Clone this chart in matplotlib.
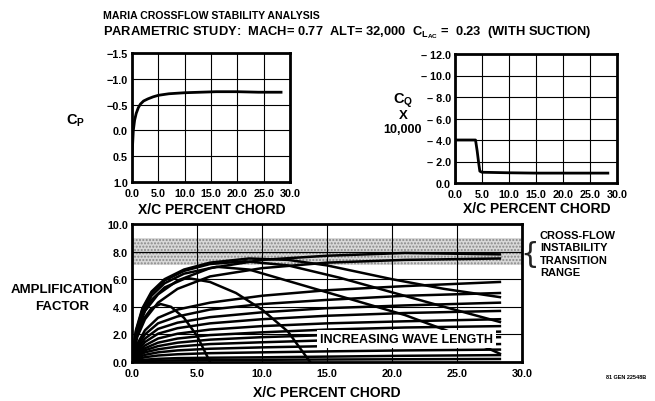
import matplotlib
matplotlib.use("Agg")
import matplotlib.pyplot as plt

plt.rcParams['font.family'] = ['Liberation Sans', 'DejaVu Sans']
plt.rcParams['font.weight'] = 'bold'
plt.rcParams['mathtext.fontset'] = 'custom'
plt.rcParams['mathtext.rm'] = 'Liberation Sans:bold'
plt.rcParams['mathtext.it'] = 'Liberation Sans:bold'
plt.rcParams['mathtext.bf'] = 'Liberation Sans:bold'

# ---- data ----
# pressure coefficient (top left)
cp_x = [0.0, 0.1, 0.25, 0.5, 0.8, 1.2, 1.6, 2.2, 3.0, 4.0, 5.0, 7.0, 10.0, 13.0, 16.0, 20.0, 24.0, 28.3]
cp_y = [0.5, 0.3, 0.0, -0.2, -0.33, -0.44, -0.51, -0.57, -0.61, -0.65, -0.68, -0.71, -0.73, -0.74, -0.75, -0.75, -0.74, -0.74]

# suction coefficient x 10,000 (top right)
cq_x = [0.0, 0.0, 3.8, 4.1, 4.4, 4.6, 5.0, 10.0, 15.0, 20.0, 25.0, 28.3]
cq_y = [0.0, 4.0, 4.0, 3.0, 1.8, 1.1, 1.0, 0.95, 0.92, 0.92, 0.92, 0.92]

# amplification factor curves (bottom) - short wavelengths: rise and decay
arc_x = [
    [0, 0.3, 0.8, 1.5, 2.2, 3.0, 4.0, 5.0, 6.0],
    [0, 0.3, 0.8, 1.5, 2.5, 4.2, 6.0, 8.0, 10.0, 12.0, 13.7],
    [0, 0.3, 0.8, 1.5, 2.5, 4.0, 6.5, 9.0, 13.0, 17.0, 21.0, 25.0, 28.3],
    [0, 0.3, 0.8, 1.5, 2.5, 4.0, 6.0, 8.7, 12.0, 16.0, 20.0, 24.0, 28.3],
    [0, 0.3, 0.8, 1.5, 2.5, 4.0, 6.0, 9.0, 12.0, 15.0, 20.0, 24.0, 28.3],
]
arc_y = [
    [0, 1.7, 3.0, 3.9, 4.2, 4.0, 3.2, 1.9, 0.0],
    [0, 2.0, 3.4, 4.5, 5.4, 6.1, 5.8, 5.0, 3.8, 2.2, 0.0],
    [0, 2.1, 3.6, 4.8, 5.7, 6.4, 6.9, 6.7, 5.6, 4.5, 3.4, 2.0, 0.6],
    [0, 2.2, 3.8, 5.0, 5.9, 6.6, 7.1, 7.3, 7.0, 6.1, 5.05, 4.0, 2.9],
    [0, 2.3, 3.9, 5.1, 6.0, 6.7, 7.2, 7.5, 7.4, 7.0, 6.0, 5.3, 4.7],
]

# longer wavelengths: keep growing to the end of the chord range
long_x = [0, 0.4, 1.0, 2.0, 3.5, 6.0, 10.0, 15.0, 21.0, 28.3]
long_y = [
    [0, 2.2, 3.7, 4.9, 5.9, 6.8, 7.4, 7.7, 7.9, 7.8],
    [0, 1.8, 3.1, 4.3, 5.3, 6.2, 6.8, 7.2, 7.4, 7.5],
    [0, 1.3, 2.3, 3.2, 3.8, 4.3, 4.8, 5.2, 5.5, 5.8],
    [0, 1.1, 2.0, 2.8, 3.3, 3.8, 4.2, 4.5, 4.8, 5.0],
    [0, 0.95, 1.7, 2.4, 2.85, 3.25, 3.6, 3.9, 4.1, 4.3],
    [0, 0.8, 1.45, 2.05, 2.45, 2.8, 3.1, 3.35, 3.55, 3.7],
    [0, 0.7, 1.2, 1.7, 2.05, 2.35, 2.6, 2.8, 2.95, 3.1],
    [0, 0.6, 1.0, 1.4, 1.7, 1.95, 2.15, 2.35, 2.5, 2.6],
    [0, 0.5, 0.85, 1.15, 1.4, 1.62, 1.8, 1.95, 2.1, 2.2],
    [0, 0.4, 0.7, 0.92, 1.12, 1.3, 1.43, 1.57, 1.7, 1.8],
    [0, 0.3, 0.52, 0.7, 0.84, 0.96, 1.06, 1.15, 1.23, 1.3],
    [0, 0.2, 0.35, 0.47, 0.56, 0.64, 0.7, 0.77, 0.84, 0.9],
    [0, 0.1, 0.17, 0.23, 0.28, 0.31, 0.34, 0.39, 0.45, 0.5],
    [0, 0.05, 0.08, 0.1, 0.12, 0.14, 0.16, 0.18, 0.2, 0.22],
]

band_lo, band_hi = 7.0, 9.0

x_ticks = [0, 5, 10, 15, 20, 25, 30]
x_labels = ['0.0', '5.0', '10.0', '15.0', '20.0', '25.0', '30.0']
cp_ticks = [-1.5, -1.0, -0.5, 0.0, 0.5, 1.0]
cp_labels = ['\u22121.5', '\u22121.0', '\u22120.5', '0.0', '0.5', '1.0']
cq_ticks = [0, 2, 4, 6, 8, 10, 12]
cq_labels = ['0.0', '\u2013 2.0', '\u2013 4.0', '\u2013 6.0', '\u2013 8.0', '\u2013 10.0', '\u2013 12.0']
af_ticks = [0, 2, 4, 6, 8, 10]
af_labels = ['0.0', '2.0', '4.0', '6.0', '8.0', '10.0']

W, H = 655, 402
fig = plt.figure(figsize=(W / 100, H / 100), dpi=100)


def px_axes(l, t, r, b):
    return fig.add_axes([l / W, 1 - b / H, (r - l) / W, (b - t) / H])


def style(ax):
    for s in ax.spines.values():
        s.set_linewidth(2.0)
    ax.tick_params(length=0, labelsize=7.8)
    ax.tick_params(axis='x', pad=4)
    ax.tick_params(axis='y', pad=3)
    ax.grid(True, color='black', lw=0.8)
    ax.set_axisbelow(True)


def ftext(x, y, s, **kw):
    fig.text(x / W, 1 - y / H, s, **kw)


# ---- top left: Cp ----
ax1 = px_axes(132, 54, 290, 183)
style(ax1)
ax1.plot(cp_x, cp_y, color='black', lw=2.0)
ax1.set_xlim(0, 30)
ax1.set_ylim(1.0, -1.5)
ax1.set_xticks(x_ticks, x_labels)
ax1.set_yticks(cp_ticks, cp_labels)

# ---- top right: Cq ----
ax2 = px_axes(455, 55, 617, 184)
style(ax2)
ax2.plot(cq_x, cq_y, color='black', lw=2.0)
ax2.set_xlim(0, 30)
ax2.set_ylim(0, 12)
ax2.set_xticks(x_ticks, x_labels)
ax2.set_yticks(cq_ticks, cq_labels)

# ---- bottom: amplification factor ----
ax3 = px_axes(132, 225, 522, 363)
style(ax3)
ax3.axhspan(band_lo, band_hi, facecolor='#d8d8d8', edgecolor='#888888',
            hatch='.....', lw=0, zorder=0.5)
ax3.axhline(8.0, color='black', lw=0.8, zorder=0.6)
for xs, ys in zip(arc_x, arc_y):
    ax3.plot(xs, ys, color='black', lw=1.8, zorder=2)
for ys in long_y:
    ax3.plot(long_x, ys, color='black', lw=1.8, zorder=2)
ax3.set_xlim(0, 30)
ax3.set_ylim(0, 10)
ax3.set_xticks(x_ticks, x_labels)
ax3.set_yticks(af_ticks, af_labels)
ax3.text(21.1, 1.65, 'INCREASING WAVE LENGTH', ha='center', va='center',
         fontsize=9, zorder=5,
         bbox=dict(facecolor='white', edgecolor='none', pad=2.0))

# ---- labels ----
ftext(103, 16, 'MARIA CROSSFLOW STABILITY ANALYSIS', fontsize=7.6, va='center')
ftext(103, 33, r'PARAMETRIC STUDY:  MACH= 0.77  ALT= 32,000  C$_{\mathrm{L}_{\mathrm{AC}}}$ =  0.23  (WITH SUCTION)',
      fontsize=9.3, va='center')

ftext(76, 121, r'C$_\mathrm{P}$', fontsize=10.5, va='center', ha='center')

ftext(403, 101, r'C$_\mathrm{Q}$', fontsize=10.5, va='center', ha='center')
ftext(403, 116, 'X', fontsize=9.5, va='center', ha='center')
ftext(402, 130, '10,000', fontsize=9, va='center', ha='center')

ftext(212, 210, 'X/C PERCENT CHORD', fontsize=10, va='center', ha='center')
ftext(537, 209, 'X/C PERCENT CHORD', fontsize=10, va='center', ha='center')
ftext(327, 393, 'X/C PERCENT CHORD', fontsize=10, va='center', ha='center')

ftext(62, 290, 'AMPLIFICATION', fontsize=9.5, va='center', ha='center')
ftext(62, 307, 'FACTOR', fontsize=9.5, va='center', ha='center')

ftext(530, 255, '{', fontsize=21, va='center', ha='center', fontweight='normal',
      family=['DejaVu Sans'], color='#222222')
ftext(540, 231, 'CROSS-FLOW\nINSTABILITY\nTRANSITION\nRANGE',
      fontsize=8, va='top', ha='left', linespacing=1.3)
ftext(606, 378, '81 GEN 22548B', fontsize=4, va='center')

fig.savefig('out.png', dpi=100)
